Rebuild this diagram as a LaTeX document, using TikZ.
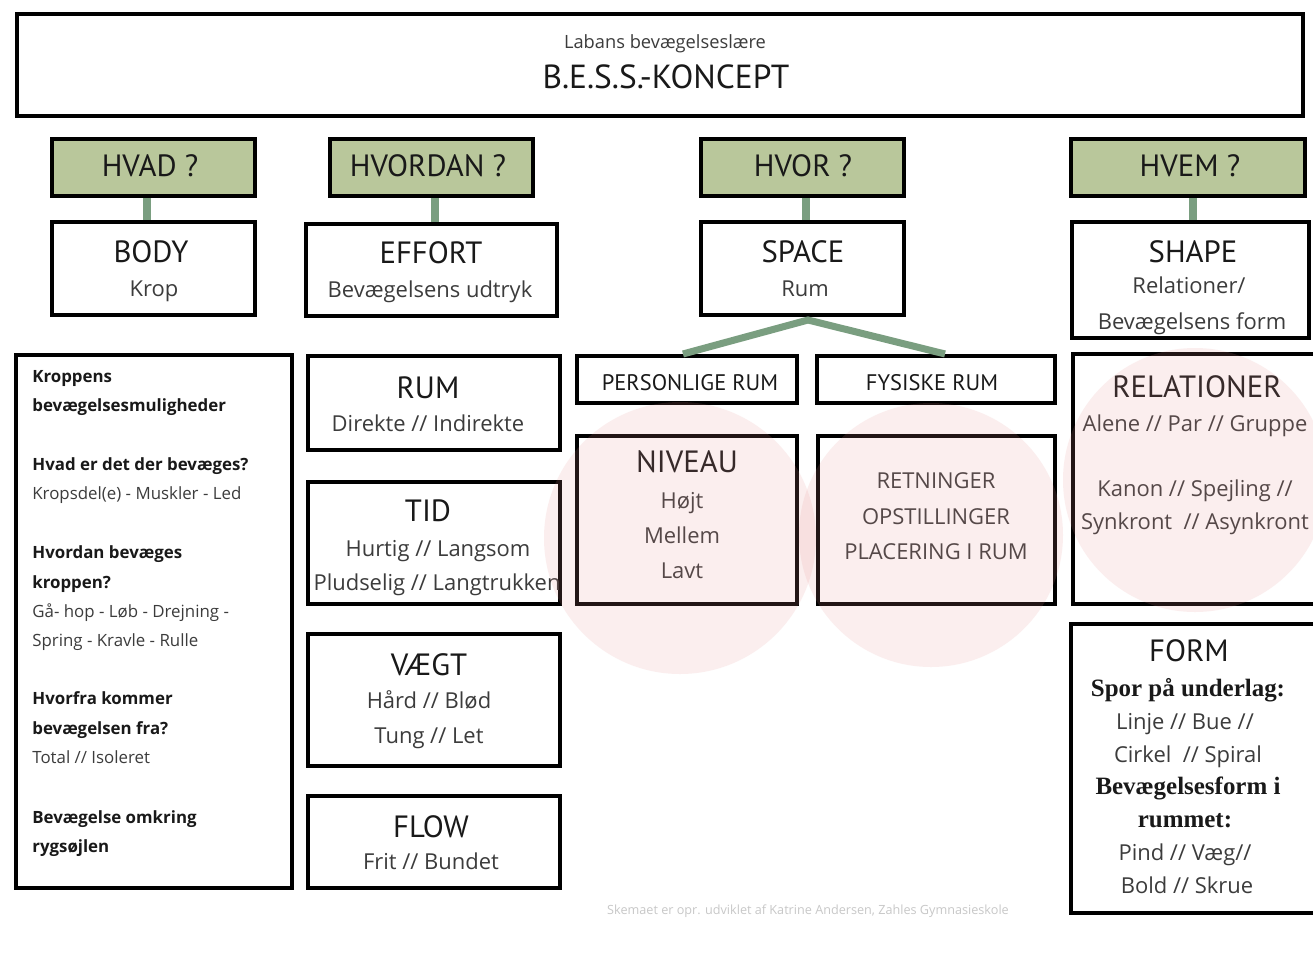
\documentclass[tikz,border=0pt]{standalone}
\usepackage{fontspec}
\setmainfont{Open Sans}
\newfontfamily\hdf{PT Sans}
\newfontfamily\srf{Liberation Serif}
\definecolor{hdgreen}{RGB}{185,199,155}
\definecolor{lngreen}{RGB}{122,158,128}
\definecolor{pinkc}{RGB}{232,145,145}
\definecolor{txtd}{RGB}{25,25,25}
\definecolor{txtl}{RGB}{60,60,60}
\definecolor{foot}{RGB}{200,200,200}
\newcommand{\bx}[6][]{\node[box,#1,minimum width={(#5-#3-4)*0.02cm},minimum height={(#6-#4-4)*0.02cm}] (#2) at ({(#3+#5)/2},{(#4+#6)/2}) {};}
\begin{document}
\begin{tikzpicture}[x=0.02cm,y=-0.02cm,
  box/.style={draw=black,line width=2.3pt,fill=white,inner sep=0pt,rectangle},
  qbox/.style={fill=hdgreen},
  conn/.style={draw=lngreen,line width=4pt},
  hd/.style={font=\hdf\fontsize{17.5}{20}\selectfont,text=txtd,anchor=base,inner sep=0pt},
  hdm/.style={font=\hdf\fontsize{12.8}{15}\selectfont,text=txtd,anchor=base,inner sep=0pt},
  sub/.style={font=\fontsize{12.5}{15}\selectfont,text=txtl,anchor=base,inner sep=0pt},
  srb/.style={font=\srf\bfseries\fontsize{14.2}{16}\selectfont,text=txtd,anchor=base,inner sep=0pt},
  lb/.style={font=\bfseries\fontsize{9.6}{12}\selectfont,text=txtd,anchor=base west,inner sep=0pt},
  ll/.style={font=\fontsize{9.6}{12}\selectfont,text=txtl,anchor=base west,inner sep=0pt},
  circ/.style={fill=pinkc,opacity=0.15}]
\useasboundingbox (0,0) rectangle (1313,958);
\fill[white] (0,0) rectangle (1313,958);

% boxes
\bx{title}{15}{12}{1305}{118}
\bx[qbox]{hvad}{50}{137}{257}{198}
\bx[qbox]{hvordan}{328}{137}{535}{198}
\bx[qbox]{hvor}{699}{137}{906}{198}
\bx[qbox]{hvem}{1069}{137}{1307}{198}
\bx{body}{50}{220}{257}{317}
\bx{effort}{304}{222}{559}{318}
\bx{space}{699}{220}{906}{317}
\bx{shape}{1070}{220}{1311}{340}
\bx{left}{14}{353}{294}{890}
\bx{rum}{306}{354}{562}{452}
\bx{tid}{306}{480}{562}{606}
\bx{vaegt}{306}{632}{562}{768}
\bx{flow}{306}{794}{562}{890}
\bx{pers}{575}{354}{799}{405}
\bx{fys}{815}{354}{1057}{405}
\bx{niveau}{575}{434}{799}{606}
\bx{retn}{816}{434}{1057}{606}
\bx{rel}{1071}{352}{1320}{606}
\bx{form}{1069}{622}{1320}{915}

% connectors
\coordinate (cx1) at (147,0);
\coordinate (cx2) at (435,0);
\coordinate (cx3) at (806,0);
\coordinate (cx4) at (1193,0);
\draw[conn] (hvad.south -| cx1) -- (body.north -| cx1);
\draw[conn] (hvordan.south -| cx2) -- (effort.north -| cx2);
\draw[conn] (hvor.south -| cx3) -- (space.north -| cx3);
\draw[conn] (hvem.south -| cx4) -- (shape.north -| cx4);
\coordinate (apex) at (808,320);
\draw[conn] ([xshift=-0.08cm]pers.north) -- (apex) -- ([xshift=0.18cm]fys.north);

% title
\node[font=\fontsize{10.4}{12}\selectfont,text=txtl,anchor=base,inner sep=0pt] (t1) at (665,48.5) {Labans bevægelseslære};
\node[font=\hdf\fontsize{19}{21}\selectfont,text=txtd,anchor=base,inner sep=0pt] (t2) at (666,88.5) {B.E.S.S.-KONCEPT};

% question headers
\node[hd] (q1) at (150,176) {HVAD ?};
\node[hd] (q2) at (428,176) {HVORDAN ?};
\node[hd] (q3) at (803,176) {HVOR ?};
\node[hd] (q4) at (1190,176) {HVEM ?};

% second row
\node[hd] (b1) at (151,262) {BODY};
\node[sub] (b2) at (154,296) {Krop};
\node[hd] (e1) at (431,263) {EFFORT};
\node[sub] (e2) at (430,297) {Bevægelsens udtryk};
\node[hd] (s1) at (803,262) {SPACE};
\node[sub] (s2) at (805,296) {Rum};
\node[hd] (h1) at (1193,262) {SHAPE};
\node[sub] (h2) at (1189,293) {Relationer/};
\node[sub] (h3) at (1192,329) {Bevægelsens form};

% effort column
\node[hd] (r1) at (428,398) {RUM};
\node[sub] (r2) at (428,431) {Direkte // Indirekte};
\node[hd] (d1) at (428,521) {TID};
\node[sub] (d2) at (438,556) {Hurtig // Langsom};
\node[sub] (d3) at (437,590) {Pludselig // Langtrukken};
\node[hd] (v1) at (429,675) {VÆGT};
\node[sub] (v2) at (429,708) {Hård // Blød};
\node[sub] (v3) at (429,743) {Tung // Let};
\node[hd] (f1) at (431,837) {FLOW};
\node[sub] (f2) at (431,869) {Frit // Bundet};

% space column
\node[hdm] (p1) at (690,390) {PERSONLIGE RUM};
\node[hdm] (y1) at (932,390) {FYSISKE RUM};
\node[hd] (n1) at (687,472) {NIVEAU};
\node[sub] (n2) at (682,508) {Højt};
\node[sub] (n3) at (682,543) {Mellem};
\node[sub] (n4) at (682,578) {Lavt};
\node[sub] (g1) at (936,488) {RETNINGER};
\node[sub] (g2) at (936,524) {OPSTILLINGER};
\node[sub] (g3) at (936,559) {PLACERING I RUM};

% shape column
\node[hd] (l1) at (1197,397) {RELATIONER};
\node[sub] (l2) at (1195,431) {Alene // Par // Gruppe};
\node[sub] (l3) at (1195,496) {Kanon // Spejling //};
\node[sub] (l4) at (1195,529) {Synkront \ // Asynkront};
\node[hd] (o1) at (1189,661) {FORM};
\node[srb] (o2) at (1188,696) {Spor på underlag:};
\node[sub] (o3) at (1185,729) {Linje // Bue //};
\node[sub] (o4) at (1188,762) {Cirkel \ // Spiral};
\node[srb] (o5) at (1188,794) {Bevægelsesform i};
\node[srb] (o6) at (1185,827) {rummet:};
\node[sub] (o7) at (1185,860) {Pind // Væg//};
\node[sub] (o8) at (1187,893) {Bold // Skrue};

% body column
\node[lb] (k1) at (32,382) {Kroppens};
\node[lb] (k2) at (32,411) {bevægelsesmuligheder};
\node[lb] (k3) at (32,470) {Hvad er det der bevæges?};
\node[ll] (k4) at (32,499) {Kropsdel(e) - Muskler - Led};
\node[lb] (k5) at (32,558) {Hvordan bevæges};
\node[lb] (k6) at (32,588) {kroppen?};
\node[ll] (k7) at (32,617) {Gå- hop - Løb - Drejning -};
\node[ll] (k8) at (32,646) {Spring - Kravle - Rulle};
\node[lb] (k9) at (32,704) {Hvorfra kommer};
\node[lb] (k10) at (32,734) {bevægelsen fra?};
\node[ll] (k11) at (32,763) {Total // Isoleret};
\node[lb] (k12) at (32,823) {Bevægelse omkring};
\node[lb] (k13) at (32,852) {rygsøjlen};

% footer
\node[font=\fontsize{7.2}{8}\selectfont,text=foot,anchor=base,inner sep=0pt] (ft) at (808,914) {Skemaet er opr. udviklet af Katrine Andersen, Zahles Gymnasieskole};

% translucent circles
\fill[circ] (680,538) circle[radius=136];
\fill[circ] (931,535) circle[radius=132];
\fill[circ] (1195,480) circle[radius=132];
\end{tikzpicture}
\end{document}
